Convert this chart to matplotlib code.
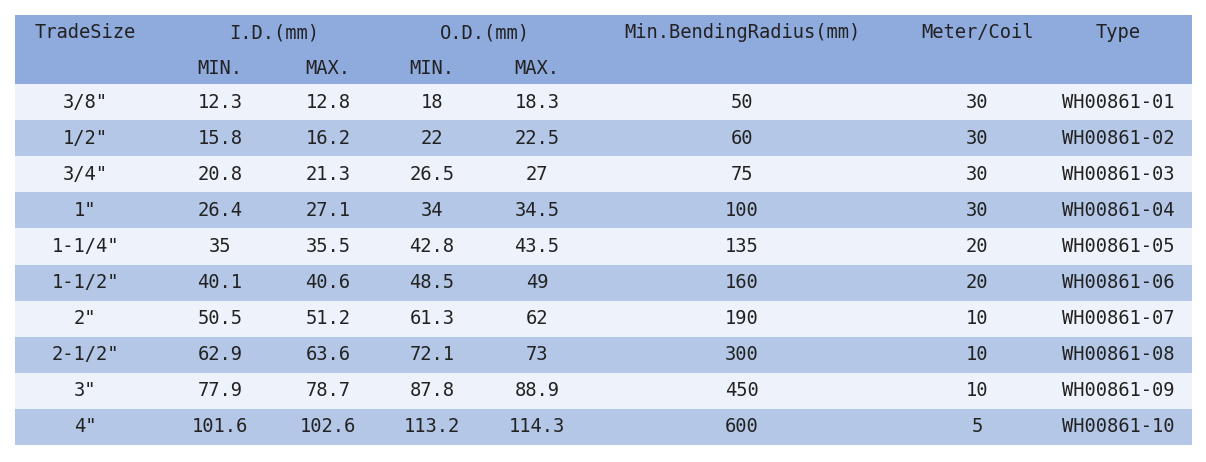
import matplotlib
matplotlib.use("Agg")
import matplotlib.pyplot as plt
from matplotlib.patches import Rectangle

trade_size = ['3/8"', '1/2"', '3/4"', '1"', '1-1/4"', '1-1/2"', '2"', '2-1/2"', '3"', '4"']
id_min = ["12.3", "15.8", "20.8", "26.4", "35", "40.1", "50.5", "62.9", "77.9", "101.6"]
id_max = ["12.8", "16.2", "21.3", "27.1", "35.5", "40.6", "51.2", "63.6", "78.7", "102.6"]
od_min = ["18", "22", "26.5", "34", "42.8", "48.5", "61.3", "72.1", "87.8", "113.2"]
od_max = ["18.3", "22.5", "27", "34.5", "43.5", "49", "62", "73", "88.9", "114.3"]
bend_radius = ["50", "60", "75", "100", "135", "160", "190", "300", "450", "600"]
meter_coil = ["30", "30", "30", "30", "20", "20", "10", "10", "10", "5"]
types = ["WH00861-%02d" % i for i in range(1, 11)]

W, H = 1206, 462
fig = plt.figure(figsize=(W / 100, H / 100), dpi=100)
ax = fig.add_axes([0, 0, 1, 1])
ax.set_xlim(0, W)
ax.set_ylim(H, 0)
ax.axis("off")

left, right = 15, 1192
top, sub, body = 15, 50, 84
row_h = 36.1
centers = [85, 220, 328, 432, 537, 742, 977, 1118]
font = dict(family="DejaVu Sans Mono", fontsize=13.5, color="#222222", ha="center", va="center")

ax.add_patch(Rectangle((left, top), right - left, body - top, color="#8FAADC", lw=0))
ax.text(centers[0], 33, "TradeSize", **font)
ax.text((centers[1] + centers[2]) / 2, 33, "I.D.(mm)", **font)
ax.text((centers[3] + centers[4]) / 2, 33, "O.D.(mm)", **font)
ax.text(centers[5], 33, "Min.BendingRadius(mm)", **font)
ax.text(centers[6], 33, "Meter/Coil", **font)
ax.text(centers[7], 33, "Type", **font)
for c, lab in zip(centers[1:5], ["MIN.", "MAX.", "MIN.", "MAX."]):
    ax.text(c, 69, lab, **font)

columns = [trade_size, id_min, id_max, od_min, od_max, bend_radius, meter_coil, types]
for i in range(len(trade_size)):
    y0 = body + i * row_h
    color = "#EEF2FA" if i % 2 == 0 else "#B4C7E7"
    ax.add_patch(Rectangle((left, y0), right - left, row_h, color=color, lw=0))
    for c, col in zip(centers, columns):
        ax.text(c, y0 + row_h / 2, col[i], **font)

fig.savefig("out.png", dpi=100)
